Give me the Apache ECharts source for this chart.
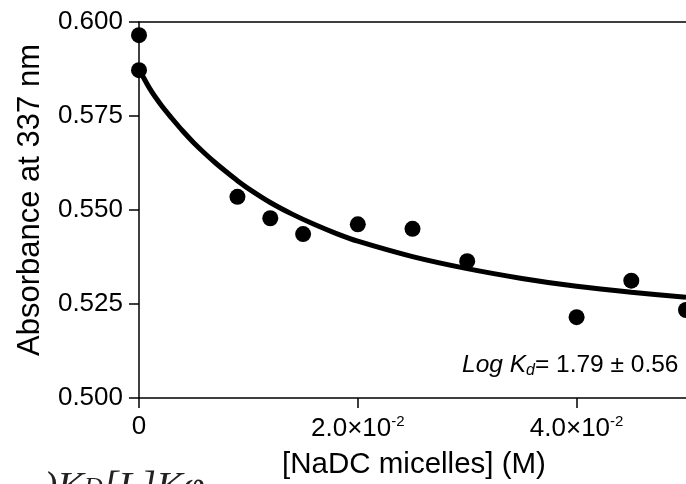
<!DOCTYPE html>
<html>
<head>
<meta charset="utf-8">
<script src="https://cdn.jsdelivr.net/npm/echarts@6/dist/echarts.min.js"></script>
<style>
html,body{margin:0;padding:0;background:#fff;}
#c{width:686px;height:484px;}
</style>
</head>
<body>
<div id="c"></div>
<script>
// Measured data points
var concX = [0, 0, 0.009, 0.012, 0.015, 0.020, 0.025, 0.030, 0.040, 0.045, 0.050];
var absY  = [0.5965, 0.5872, 0.5535, 0.5478, 0.5436, 0.5462, 0.5450, 0.5364, 0.5215, 0.5312, 0.5234];
// Fitted curve
var curveX = [0, 0.001, 0.002, 0.003, 0.004, 0.005, 0.006, 0.007, 0.008, 0.009, 0.010, 0.012, 0.014, 0.016, 0.018, 0.020, 0.025, 0.030, 0.035, 0.040, 0.045, 0.050];
var curveY = [0.5875, 0.5822, 0.5780, 0.5744, 0.5710, 0.5679, 0.5651, 0.5625, 0.5601, 0.5578, 0.5557, 0.5520, 0.5489, 0.5462, 0.5438, 0.5417, 0.5376, 0.5344, 0.5318, 0.5297, 0.5281, 0.5268];
var xTickLabels = {'0': '0', '0.02': '{a|2.0×10}{s|-2}', '0.04': '{a|4.0×10}{s|-2}'};

var FONT = "'Liberation Sans', Arial, sans-serif";
var SERIF = "'Liberation Serif', 'Times New Roman', serif";
var chart = echarts.init(document.getElementById('c'), null, {renderer: 'canvas'});

var pts = concX.map(function (x, i) { return [x, absY[i]]; });
var curve = curveX.map(function (x, i) { return [x, curveY[i]]; });

chart.setOption({
  animation: false,
  backgroundColor: '#fff',
  grid: {left: 139, top: 22, right: -2, bottom: 86, containLabel: false},
  xAxis: [{
    type: 'value', min: 0, max: 0.05, interval: 0.02,
    axisLine: {show: true, lineStyle: {color: '#000', width: 1.5}},
    axisTick: {show: true, inside: false, length: 10, lineStyle: {color: '#000', width: 1.5}},
    splitLine: {show: false},
    axisLabel: {
      show: true, margin: 16, color: '#000', fontFamily: FONT, fontSize: 26,
      showMaxLabel: false,
      formatter: function (v) { var k = String(+v.toFixed(3)); return xTickLabels[k] !== undefined ? xTickLabels[k] : ''; },
      rich: {
        a: {fontFamily: FONT, fontSize: 26, color: '#000', lineHeight: 30},
        s: {fontFamily: FONT, fontSize: 15, color: '#000', verticalAlign: 'top', lineHeight: 30, padding: [0, 0, 10, 0]}
      }
    }
  }, {
    type: 'value', position: 'top', min: 0, max: 0.05,
    axisLine: {show: true, lineStyle: {color: '#000', width: 1.5}},
    axisTick: {show: false}, axisLabel: {show: false}, splitLine: {show: false}
  }],
  yAxis: {
    type: 'value', min: 0.5, max: 0.6, interval: 0.025,
    axisLine: {show: true, lineStyle: {color: '#000', width: 1.5}},
    axisTick: {show: true, inside: false, length: 10, lineStyle: {color: '#000', width: 1.5}},
    splitLine: {show: false},
    axisLabel: {margin: 16, color: '#000', fontFamily: FONT, fontSize: 26,
      formatter: function (v) { return v.toFixed(3); }}
  },
  series: [{
    type: 'line', data: curve, smooth: 0.3, showSymbol: false, symbol: 'none',
    lineStyle: {color: '#000', width: 5}, z: 2, clip: false
  }, {
    type: 'scatter', data: pts, symbol: 'circle', symbolSize: 16,
    itemStyle: {color: '#000', opacity: 1}, z: 3, clip: false
  }],
  graphic: [{
    type: 'text', x: 30, y: 200, rotation: Math.PI / 2,
    style: {text: 'Absorbance at 337 nm', fontFamily: FONT, fontSize: 31, fill: '#000',
      align: 'center', verticalAlign: 'middle'}
  }, {
    type: 'text', x: 414, y: 465,
    style: {text: '[NaDC micelles] (M)', fontFamily: FONT, fontSize: 29.5, fill: '#000',
      align: 'center', verticalAlign: 'middle'}
  }, {
    type: 'text', x: 44, y: 468,
    style: {
      text: ')K{sd|D}[L]Kφ', fontFamily: SERIF,
      fontStyle: 'italic', fontSize: 40, fill: '#222', verticalAlign: 'top', align: 'left',
      rich: {sd: {fontFamily: SERIF, fontStyle: 'italic', fontSize: 26, fill: '#222'}}
    }
  }, {
    type: 'text', x: 462, y: 365,
    style: {
      text: '{i|Log K}{d|d}{n|= 1.79 ± 0.56}', verticalAlign: 'middle', align: 'left',
      rich: {
        i: {fontFamily: FONT, fontStyle: 'italic', fontSize: 24.5, fill: '#000', lineHeight: 28},
        d: {fontFamily: FONT, fontStyle: 'italic', fontSize: 16, fill: '#000', lineHeight: 28, verticalAlign: 'bottom', padding: [8, 0, 0, 0]},
        n: {fontFamily: FONT, fontSize: 24.5, fill: '#000', lineHeight: 28}
      }
    }
  }]
});
</script>
</body>
</html>
